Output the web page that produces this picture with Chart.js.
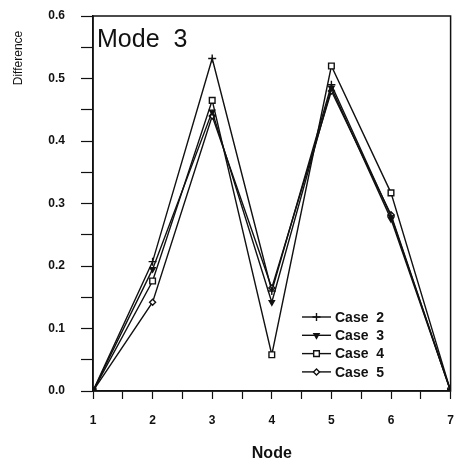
<!DOCTYPE html>
<html>
<head>
<meta charset="utf-8">
<script src="https://cdn.jsdelivr.net/npm/chart.js@4.4.1/dist/chart.umd.min.js"></script>
<style>
  html, body { margin: 0; padding: 0; background: #fff; }
  #wrap { width: 456px; height: 469px; }
</style>
</head>
<body>
<div id="wrap"><canvas id="chart" width="456" height="469"></canvas></div>
<script>
// data
const nodes = [1, 2, 3, 4, 5, 6, 7];
const case2 = [0, 0.207, 0.532, 0.160, 0.490, 0.280, 0];
const case3 = [0, 0.195, 0.447, 0.142, 0.485, 0.275, 0];
const case4 = [0, 0.176, 0.465, 0.058, 0.520, 0.317, 0];
const case5 = [0, 0.142, 0.440, 0.165, 0.480, 0.282, 0];
const caseLabels = ["Case  2", "Case  3", "Case  4", "Case  5"];

const FONT = "'Liberation Sans', Arial, sans-serif";
const toPoints = (vals) => vals.map((v, i) => ({ x: nodes[i], y: v }));

const styles = [
  { pointStyle: "cross", radius: 4, bg: "#111", rotation: 0 },
  { pointStyle: "triangle", radius: 3, bg: "#111", rotation: 180 },
  { pointStyle: "rect", radius: 4, bg: "#fff", rotation: 0 },
  { pointStyle: "rectRot", radius: 3, bg: "#fff", rotation: 0 },
];

const datasets = [case2, case3, case4, case5].map((vals, i) => ({
  label: caseLabels[i],
  data: toPoints(vals),
  borderColor: "#111",
  borderWidth: 1.4,
  pointStyle: styles[i].pointStyle,
  pointRadius: styles[i].radius,
  pointRotation: styles[i].rotation,
  pointBackgroundColor: styles[i].bg,
  pointBorderColor: "#111",
  pointBorderWidth: 1.4,
  tension: 0,
}));

// frame, texts and legend drawn on top of the chart
const decorations = {
  id: "decorations",
  afterDraw(chart) {
    const { ctx, chartArea } = chart;
    ctx.save();
    ctx.strokeStyle = "#111";
    ctx.lineWidth = 1.5;
    ctx.strokeRect(chartArea.left, chartArea.top, chartArea.right - chartArea.left, chartArea.bottom - chartArea.top);

    ctx.fillStyle = "#111";
    ctx.textBaseline = "alphabetic";
    ctx.textAlign = "left";
    ctx.font = "25px " + FONT;
    ctx.fillText("Mode  3", chartArea.left + 4, chartArea.top + 31);

    // y title near the top, rotated
    ctx.save();
    ctx.translate(19, chartArea.top + 42);
    ctx.rotate(-Math.PI / 2);
    ctx.textAlign = "center";
    ctx.textBaseline = "middle";
    ctx.font = "12px " + FONT;
    ctx.fillText("Difference", 0, 0);
    ctx.restore();

    // legend
    const lx = 302, ly = 317, gap = 18.3;
    chart.data.datasets.forEach((ds, i) => {
      const y = ly + i * gap;
      ctx.strokeStyle = "#111";
      ctx.lineWidth = 1.4;
      ctx.beginPath();
      ctx.moveTo(lx, y);
      ctx.lineTo(lx + 29, y);
      ctx.stroke();
      ctx.fillStyle = ds.pointBackgroundColor;
      Chart.helpers.drawPoint(ctx, {
        pointStyle: ds.pointStyle,
        radius: ds.pointRadius,
        rotation: ds.pointRotation,
        borderWidth: 1.4,
      }, lx + 14.5, y);
      ctx.fillStyle = "#111";
      ctx.font = "bold 14px " + FONT;
      ctx.textAlign = "left";
      ctx.textBaseline = "middle";
      ctx.fillText(ds.label, lx + 33, y + 1);
    });
    ctx.restore();
  },
};

new Chart(document.getElementById("chart"), {
  type: "line",
  data: { datasets },
  plugins: [decorations],
  options: {
    responsive: false,
    animation: false,
    layout: { padding: { top: 16, right: 4, left: 0, bottom: 0 } },
    plugins: { legend: { display: false }, tooltip: { enabled: false } },
    scales: {
      x: {
        type: "linear",
        min: 1,
        max: 7,
        afterFit: (s) => { s.height = 78; s.paddingLeft = 0; s.paddingRight = 0; },
        border: { color: "#111", width: 1.5 },
        grid: { drawOnChartArea: false, tickLength: 8, tickColor: "#111", tickWidth: 1.2 },
        ticks: {
          stepSize: 0.5,
          padding: 14,
          color: "#111",
          font: { family: FONT, size: 12, weight: "bold" },
          maxRotation: 0,
          callback: (v) => (Number.isInteger(v) ? String(v) : ""),
        },
        title: {
          display: true,
          text: "Node",
          color: "#111",
          font: { family: FONT, size: 16, weight: "bold" },
          padding: { top: 0, bottom: 6 },
        },
      },
      y: {
        min: 0,
        max: 0.6,
        afterFit: (s) => { s.width = 93; s.paddingTop = 0; s.paddingBottom = 0; },
        border: { color: "#111", width: 1.5 },
        grid: { drawOnChartArea: false, tickLength: 12, tickColor: "#111", tickWidth: 1.2 },
        ticks: {
          stepSize: 0.05,
          padding: 16,
          color: "#111",
          font: { family: FONT, size: 12, weight: "bold" },
          callback: (v) => {
            const t = v * 10;
            return Math.abs(t - Math.round(t)) < 1e-6 ? (Math.round(t) / 10).toFixed(1) : "";
          },
        },
      },
    },
  },
});
</script>
</body>
</html>
